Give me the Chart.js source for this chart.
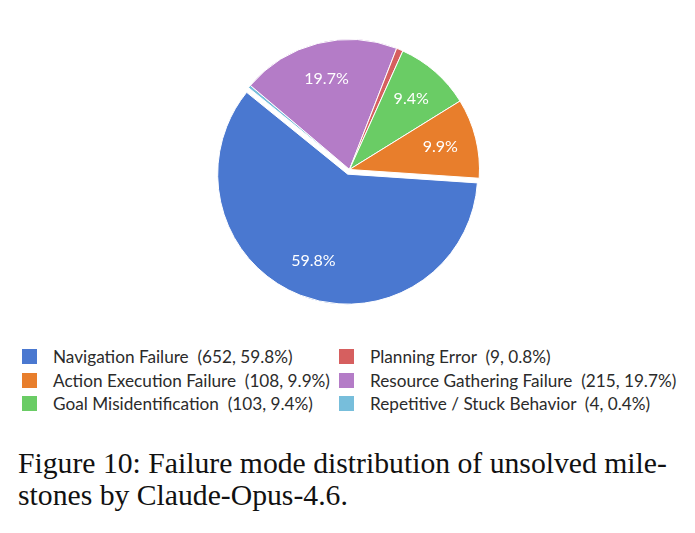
<!DOCTYPE html>
<html>
<head>
<meta charset="utf-8">
<script src="https://cdn.jsdelivr.net/npm/chart.js@4.4.1/dist/chart.umd.min.js"></script>
<style>
  html, body { margin: 0; padding: 0; background: #fff; }
  body { width: 695px; height: 533px; position: relative; overflow: hidden; }
  #wrap { position: absolute; left: 0; top: 0; width: 695px; height: 339px; }
  #legend { position: absolute; left: 0; top: 346px; width: 695px; font-family: Lato, sans-serif; font-size: 17.2px; color: #2b2b2b; }
  .item { position: absolute; white-space: pre; line-height: 22px; height: 22px; }
  .item .sw { position: absolute; left: 0; top: 3px; width: 15px; height: 15px; }
  .item .tx { position: absolute; left: 31px; top: 0; }
  #caption { position: absolute; left: 18px; top: 447px; width: 680px; font-family: "Liberation Serif", "Times New Roman", serif; font-size: 29.7px; line-height: 32px; color: #111; }
</style>
</head>
<body>
<div id="wrap"><canvas id="pie"></canvas></div>
<div id="legend"></div>
<div id="caption">Figure 10: Failure mode distribution of unsolved mile-<br>stones by Claude-Opus-4.6.</div>

<script>
  // data (legend order)
  const categories = ['Navigation Failure', 'Action Execution Failure', 'Goal Misidentification',
                      'Planning Error', 'Resource Gathering Failure', 'Repetitive / Stuck Behavior'];
  const counts = [652, 108, 103, 9, 215, 4];
  const percents = [59.8, 9.9, 9.4, 0.8, 19.7, 0.4];
  const colors = ['#4a78d0', '#e87e2c', '#6acc65', '#d65f5f', '#b47cc7', '#77bedb'];
  const exploded = [true, false, false, false, false, false];
  const EXPLODE_PX = 5;

  // pie in the figure runs counter-clockwise; Chart.js draws clockwise, so reverse
  const order = categories.map((_, i) => i).reverse();

  // chart.js "offset" also grows the radius of big slices, so push the arc centre instead
  const explode = {
    id: 'explode',
    afterUpdate(chart) {
      chart.getDatasetMeta(0).data.forEach((arc, k) => {
        if (!exploded[order[k]]) return;
        const mid = (arc.startAngle + arc.endAngle) / 2;
        arc.x += Math.cos(mid) * EXPLODE_PX;
        arc.y += Math.sin(mid) * EXPLODE_PX;
      });
    }
  };

  const pctLabels = {
    id: 'pctLabels',
    afterDatasetsDraw(chart) {
      const ctx = chart.ctx;
      const meta = chart.getDatasetMeta(0);
      ctx.save();
      ctx.fillStyle = '#fff';
      ctx.font = '16px Lato, sans-serif';
      ctx.textAlign = 'center';
      ctx.textBaseline = 'middle';
      meta.data.forEach((arc, k) => {
        const i = order[k];
        if (percents[i] < 5) return;
        const mid = (arc.startAngle + arc.endAngle) / 2;
        const r = arc.outerRadius * 0.72;
        ctx.fillText(percents[i].toFixed(1) + '%', arc.x + Math.cos(mid) * r, arc.y + Math.sin(mid) * r);
      });
      ctx.restore();
    }
  };

  new Chart(document.getElementById('pie'), {
    type: 'pie',
    data: {
      labels: order.map(i => categories[i]),
      datasets: [{
        data: order.map(i => counts[i]),
        backgroundColor: order.map(i => colors[i]),
        borderColor: '#fff',
        borderWidth: 1
      }]
    },
    options: {
      responsive: true,
      maintainAspectRatio: false,
      animation: false,
      rotation: -51,
      radius: 130,
      layout: { padding: { left: 4, right: 0, top: 0, bottom: 0 } },
      plugins: { legend: { display: false }, tooltip: { enabled: false } }
    },
    plugins: [explode, pctLabels]
  });

  // legend, two columns filled top to bottom
  const legend = document.getElementById('legend');
  categories.forEach((name, i) => {
    const col = Math.floor(i / 3), row = i % 3;
    const el = document.createElement('div');
    el.className = 'item';
    el.style.left = (col === 0 ? 22 : 339) + 'px';
    el.style.top = (row * 23.5) + 'px';
    el.innerHTML = `<span class="sw" style="background:${colors[i]}"></span><span class="tx">${name}  (${counts[i]}, ${percents[i].toFixed(1)}%)</span>`;
    legend.appendChild(el);
  });
</script>
</body>
</html>
